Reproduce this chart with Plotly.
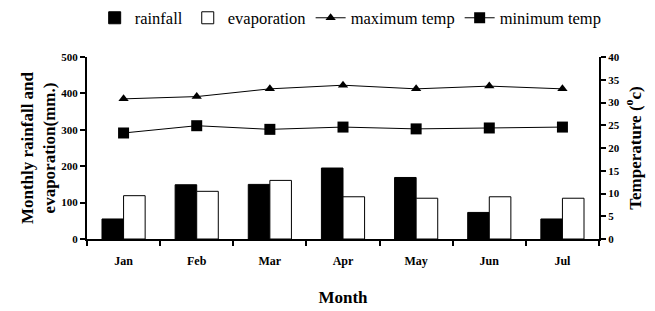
import plotly.graph_objects as go

months = ["Jan", "Feb", "Mar", "Apr", "May", "Jun", "Jul"]
rainfall = [55, 149, 150, 195, 169, 73, 55]
evaporation = [119, 131, 161, 116, 112, 116, 112]
max_temp = [30.8, 31.3, 33.0, 33.8, 33.0, 33.6, 33.0]
min_temp = [23.3, 24.9, 24.1, 24.6, 24.2, 24.4, 24.6]

FONT = "Liberation Serif"

fig = go.Figure()
fig.add_trace(go.Bar(x=months, y=rainfall, name="rainfall",
                     marker=dict(color="black", line=dict(color="black", width=1))))
fig.add_trace(go.Bar(x=months, y=evaporation, name="evaporation",
                     marker=dict(color="white", line=dict(color="black", width=1))))
fig.add_trace(go.Scatter(x=months, y=max_temp, name="maximum temp", yaxis="y2",
                         mode="lines+markers", line=dict(color="black", width=1),
                         marker=dict(symbol="triangle-up", size=9, color="black")))
fig.add_trace(go.Scatter(x=months, y=min_temp, name="minimum temp", yaxis="y2",
                         mode="lines+markers", line=dict(color="black", width=1),
                         marker=dict(symbol="square", size=11, color="black")))

axis_common = dict(showline=True, linecolor="black", linewidth=2, ticks="outside",
                   tickcolor="black", tickwidth=2, ticklen=5, showgrid=False,
                   zeroline=False, automargin=False)

fig.update_layout(
    width=655, height=311,
    margin=dict(l=87, r=56, t=57, b=72, autoexpand=False),
    paper_bgcolor="white", plot_bgcolor="white",
    font=dict(family=FONT, color="black"),
    barmode="group", bargap=0.41, bargroupgap=0,
    showlegend=True,
    legend=dict(orientation="h", x=0.515, xanchor="center", y=1.214, yanchor="middle",
                font=dict(size=16.5, family=FONT), itemwidth=30,
                traceorder="normal", bgcolor="rgba(0,0,0,0)"),
    xaxis=dict(**axis_common, type="category", tickson="boundaries", ticklabelstandoff=10,
               tickfont=dict(size=12, family=FONT, weight="bold"),
               title=dict(text="<b>Month</b>", font=dict(size=17, family=FONT), standoff=24)),
    yaxis=dict(**axis_common, range=[0, 500], dtick=100,
               tickfont=dict(size=11, family=FONT, weight="bold"),
               title=dict(text="<b>Monthly rainfall and<br>evaporation(mm.)</b>",
                          font=dict(size=17, family=FONT), standoff=1)),
    yaxis2=dict(**axis_common, range=[0, 40], dtick=5, overlaying="y", side="right",
                tickfont=dict(size=11, family=FONT, weight="bold"),
                title=dict(text="<b>Temperature (<sup>o</sup>c)</b>",
                           font=dict(size=17, family=FONT), standoff=10)),
)

fig.write_html("out.html", config={"displayModeBar": False},
               post_script="document.body.style.margin='0';")
